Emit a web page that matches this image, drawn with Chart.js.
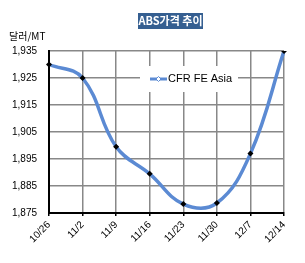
<!DOCTYPE html>
<html><head><meta charset="utf-8">
<script src="https://cdn.jsdelivr.net/npm/chart.js@4"></script>
<style>html,body{margin:0;padding:0;background:#fff;}#wrap{width:305px;height:263px;position:relative;}</style>
</head><body>
<div id="wrap"><canvas id="c" width="305" height="263"></canvas></div>
<script>
const categories = ['10/26','11/2','11/9','11/16','11/23','11/30','12/7','12/14'];
const cfrFeAsia = [1930, 1925, 1899.5, 1889.5, 1878.3, 1878.7, 1897, 1935];
const yTicks = [1875, 1885, 1895, 1905, 1915, 1925, 1935];
const chartTitle = 'ABS가격 추이';
const unitLabel = '달러/MT';
const seriesLabel = 'CFR FE Asia';

const NUMF = '"Liberation Sans Narrow","Liberation Sans",Arial,sans-serif';
const KF = '"Noto Sans CJK KR","Liberation Sans",sans-serif';

const decor = {
  id: 'decor',
  afterDraw(chart) {
    const ctx = chart.ctx;
    ctx.save();
    // title box
    ctx.fillStyle = '#355f91';
    ctx.fillRect(138, 13, 65, 16);
    ctx.fillStyle = '#fff';
    ctx.font = 'bold 11px ' + KF;
    ctx.textAlign = 'center'; ctx.textBaseline = 'middle';
    ctx.fillText(chartTitle, 170.5, 21);
    // unit
    ctx.fillStyle = '#000';
    ctx.font = '10px ' + KF;
    ctx.textAlign = 'left';
    ctx.fillText(unitLabel, 9, 36);
    // legend
    const lx = 140, ly = 66, lw = 98, lh = 26;
    ctx.fillStyle = '#fff';
    ctx.fillRect(lx, ly, lw, lh);
    const my = ly + lh/2;
    ctx.strokeStyle = '#5b8ad3'; ctx.lineWidth = 3;
    ctx.beginPath(); ctx.moveTo(150, my); ctx.lineTo(167, my); ctx.stroke();
    ctx.fillStyle = '#fff'; ctx.strokeStyle = '#5b8ad3'; ctx.lineWidth = 1;
    ctx.beginPath(); ctx.moveTo(158.5, my-2.5); ctx.lineTo(161, my); ctx.lineTo(158.5, my+2.5); ctx.lineTo(156, my); ctx.closePath(); ctx.fill(); ctx.stroke();
    ctx.fillStyle = '#000';
    ctx.font = '11px ' + NUMF;
    ctx.textBaseline = 'middle';
    ctx.fillText(chart.data.datasets[0].label, 168, my);
    ctx.restore();
  }
};

new Chart(document.getElementById('c'), {
  type: 'line',
  data: {
    labels: categories,
    datasets: [{
      label: seriesLabel,
      data: cfrFeAsia,
      borderColor: '#5b8ad3',
      borderWidth: 3.5,
      tension: 0.4,
      pointStyle: 'rectRot',
      pointRadius: 3,
      pointBackgroundColor: '#000',
      pointBorderColor: '#000',
      pointBorderWidth: 0
    }]
  },
  options: {
    responsive: false,
    animation: false,
    layout: { padding: { top: 51, left: 0, right: 21, bottom: 0 } },
    plugins: { legend: { display: false }, title: { display: false }, tooltip: { enabled: false } },
    scales: {
      x: {
        offset: false,
        grid: { color: '#888', lineWidth: 1.5, drawTicks: true, tickLength: 3, tickColor: '#000' },
        border: { color: '#000', width: 2 },
        ticks: { color: '#000', font: { family: NUMF, size: 10 }, minRotation: 45, maxRotation: 45, autoSkip: false, padding: 3 },
        afterFit(s) { s.height = 50; }
      },
      y: {
        min: 1875, max: 1935,
        afterBuildTicks(s) { s.ticks = yTicks.map(v => ({ value: v })); },
        grid: { color: '#888', lineWidth: 1.5, drawTicks: false },
        border: { color: '#000', width: 2 },
        ticks: {
          color: '#000', font: { family: NUMF, size: 10 }, padding: 12,
          callback: v => v.toLocaleString('en-US')
        },
        afterFit(s) { s.width = 49; }
      }
    }
  },
  plugins: [decor]
});
</script>
</body></html>
